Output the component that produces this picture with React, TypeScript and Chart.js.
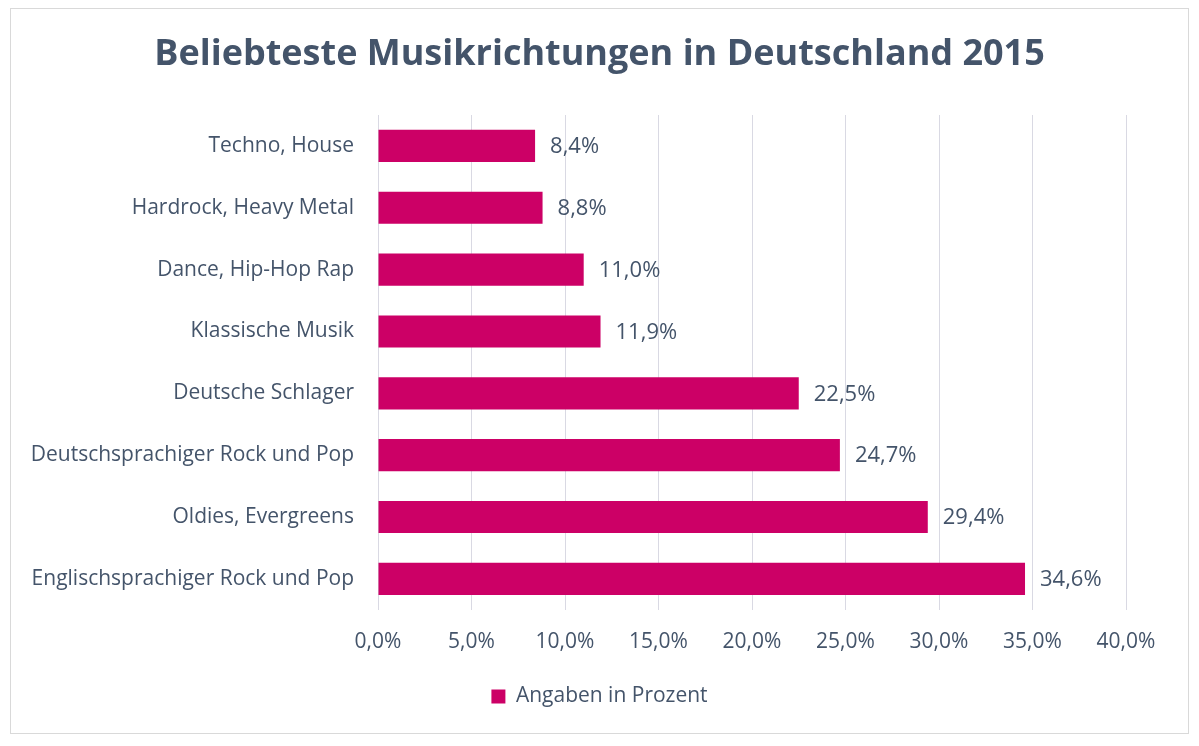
import { Chart, ChartConfiguration, Plugin, registerables } from "chart.js";
import { useEffect, useState } from "react";

Chart.register(...registerables);

const genres = [
  "Techno, House",
  "Hardrock, Heavy Metal",
  "Dance, Hip-Hop Rap",
  "Klassische Musik",
  "Deutsche Schlager",
  "Deutschsprachiger Rock und Pop",
  "Oldies, Evergreens",
  "Englischsprachiger Rock und Pop"
];
const shares = [8.4, 8.8, 11.0, 11.9, 22.5, 24.7, 29.4, 34.6];
const seriesName = "Angaben in Prozent";
const titleText = "Beliebteste Musikrichtungen in Deutschland 2015";

const _font = "'Open Sans', sans-serif";
const _text = "#44546A";
const _bar = "#CC0066";

const pct = (v: number) => v.toFixed(1).replace(".", ",") + "%";

// value labels at the end of each bar
const valueLabels: Plugin<"bar"> = {
  id: "valueLabels",
  afterDatasetsDraw(chart) {
    const ctx = chart.ctx;
    const meta = chart.getDatasetMeta(0);
    ctx.save();
    ctx.font = `22px ${_font}`;
    ctx.fillStyle = _text;
    ctx.textAlign = "left";
    ctx.textBaseline = "middle";
    meta.data.forEach((el, i) => {
      const { x, y } = el.getProps(["x", "y"], true) as { x: number; y: number };
      ctx.fillText(pct(shares[i]), x + 15, y + 1);
    });
    ctx.restore();
  }
};

// title centred on the whole canvas, not on the padded box
const centredTitle: Plugin<"bar"> = {
  id: "centredTitle",
  afterDraw(chart) {
    const ctx = chart.ctx;
    ctx.save();
    ctx.font = `bold 36px ${_font}`;
    ctx.fillStyle = _text;
    ctx.textAlign = "center";
    ctx.textBaseline = "middle";
    ctx.fillText(titleText, chart.width / 2, 55);
    ctx.restore();
  }
};

function GenreChart() {
  const [canvas, setCanvas] = useState<HTMLCanvasElement | null>(null);

  useEffect(() => {
    if (!canvas) {
      return;
    }

    const config: ChartConfiguration<"bar"> = {
      type: "bar",
      data: {
        labels: genres,
        datasets: [
          {
            label: seriesName,
            data: shares,
            backgroundColor: _bar,
            categoryPercentage: 1,
            barPercentage: 0.52
          }
        ]
      },
      options: {
        indexAxis: "y",
        animation: false,
        responsive: false,
        layout: {
          padding: { left: 0, right: 0, top: 115, bottom: 29 }
        },
        plugins: {
          title: { display: false },
          legend: {
            position: "bottom",
            labels: {
              color: _text,
              font: { family: _font, size: 21 },
              boxWidth: 14,
              boxHeight: 14,
              padding: 11
            }
          },
          tooltip: { enabled: false }
        },
        scales: {
          x: {
            min: 0,
            max: 40,
            ticks: {
              stepSize: 5,
              color: _text,
              font: { family: _font, size: 21 },
              padding: 20,
              callback: (v) => pct(Number(v))
            },
            grid: { color: "#D9D9E3", drawTicks: false },
            border: { display: false }
          },
          y: {
            afterFit: (scale) => {
              scale.width = 378;
            },
            ticks: {
              color: _text,
              font: { family: _font, size: 21 },
              padding: 24
            },
            grid: { display: false, drawTicks: false },
            border: { display: false }
          },
          // empty right axis that only reserves the space right of the plot
          spacer: {
            axis: "y",
            position: "right",
            ticks: { display: false },
            grid: { display: false, drawTicks: false },
            border: { display: false },
            afterFit: (scale) => {
              scale.width = 73;
            }
          }
        }
      },
      plugins: [valueLabels, centredTitle]
    };

    const chart = new Chart(canvas, config);
    return () => {
      chart.destroy();
    };
  }, [canvas]);

  return (
    <div style={{ position: "absolute", left: 0, top: 0, width: 1199, height: 746, background: "#fff" }}>
      <div
        style={{
          position: "absolute",
          left: 10,
          top: 8,
          width: 1177,
          height: 724,
          border: "1px solid #D9D9D9"
        }}
      />
      <canvas ref={setCanvas} width={1199} height={746} style={{ position: "absolute", left: 0, top: 0 }} />
    </div>
  );
}

export default function App() {
  return <GenreChart />;
}
